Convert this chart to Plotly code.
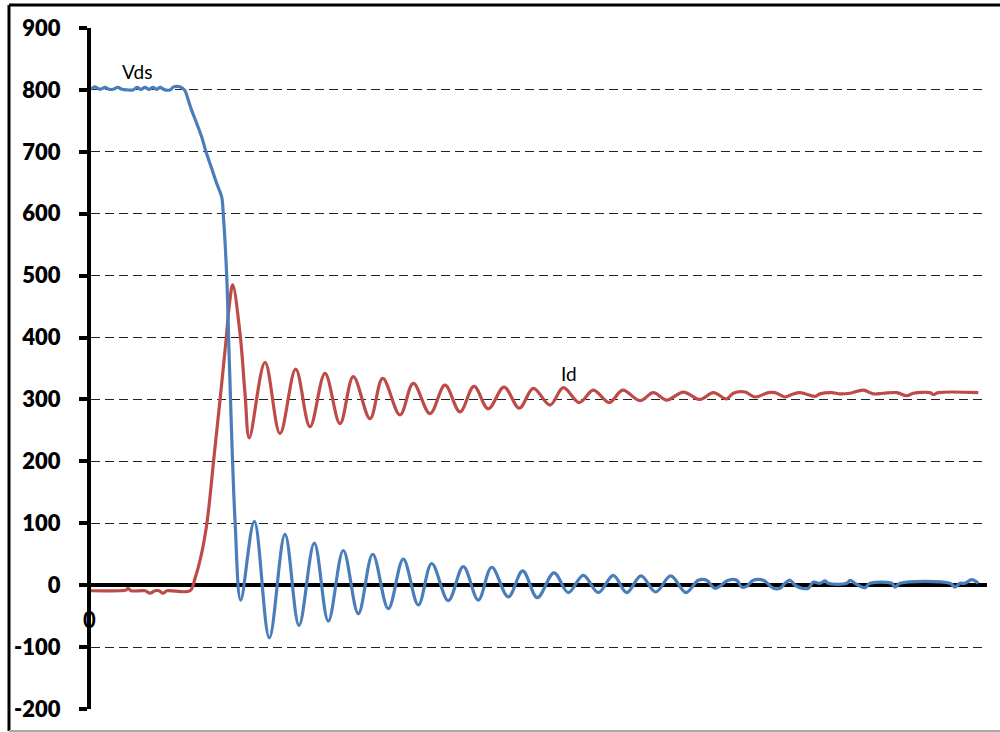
import plotly.graph_objects as go

# Switching transient: drain-source voltage (V) and drain current, vs. time
vds_t = [0, 4, 9, 14, 18, 22, 27, 31, 36, 42, 46, 50, 54, 58, 62, 66, 69, 74, 79, 83, 89, 92, 94,
         97, 100.7, 105.7, 110.7, 115, 120.7, 125.7, 130.7, 132.3, 135.7, 138.3, 144, 149.7,
         163.3, 178.3, 194, 208, 223.3, 237.3, 252.3, 267.3, 281.7, 297.3, 312.3, 327.3, 340.7,
         357.3, 372.3, 387.3, 400.7, 417.3, 431.7, 446.3, 463, 477.3, 492.3, 507.3, 522.3, 535.7,
         550, 564.7, 579.7, 595, 607.3, 615.7, 624, 637.3, 645.7, 650.7, 655.7, 662.3, 672.3,
         682.3, 689, 694, 699, 704, 710.7, 717.3, 722.3, 729, 734, 737.3, 755.7, 759, 764, 774,
         779, 800.7, 804, 809, 859, 864, 869, 874, 880.7, 887.3]
vds_v = [801, 805, 801, 804, 801, 801, 804, 801, 800, 800, 804, 801, 804, 801, 804, 801, 804, 800,
         800, 805, 805, 802, 799, 785, 767, 746, 724, 700, 673, 649, 627, 598, 500, 363, 105, -24,
         103, -85, 82, -65, 68, -58, 56, -46, 50, -38, 42, -32, 35, -25, 30, -24, 29, -19, 23, -20,
         20, -12, 16, -12, 16, -12, 15, -11, 15, -12, 8, 8, -5, 8, 8, -3, -2, 8, 8, -5, -5, 3, 8,
         0, -5, -5, 5, 3, 7, 3, 3, 8, 3, -4, 3, 3, -3, 3, 3, -3, 3, 3, 9, 3]

id_t = [0, 29, 35, 37, 40, 54, 59, 64, 68, 72, 76, 99, 104, 110.7, 116.3, 123, 129, 135, 138.5,
        141.7, 149, 154, 158.3, 174, 189, 204.7, 219, 234, 249, 262.3, 279, 291.7, 309, 322.3,
        339, 354, 369, 383, 397.3, 413, 428.3, 442.3, 459, 472.3, 488.3, 502.3, 518.3, 531.7,
        549, 562.3, 575.7, 592.3, 609, 622.3, 635.7, 642.3, 654, 664, 677.3, 684, 694, 700.7,
        709, 724, 729, 740.7, 749, 759, 772.3, 782.3, 792.3, 805.7, 815.7, 822.3, 839, 842.3,
        847.3, 887.3]
id_v = [-9, -9, -8, -5, -9, -9, -13, -9, -9, -13, -9, -9, 11, 52, 105, 207, 299, 395, 455, 485,
        407, 310, 238, 360, 245, 349, 256, 342, 261, 337, 269, 334, 275, 326, 277, 323, 280, 321,
        285, 320, 286, 318, 291, 319, 295, 315, 295, 315, 298, 311, 299, 312, 300, 311, 301, 310,
        312, 304, 311, 311, 304, 308, 311, 305, 309, 311, 309, 310, 315, 309, 310, 311, 306, 310,
        311, 308, 311, 311]

y_ticks = list(range(-200, 901, 100))

BLUE = "#4A7EBB"
RED = "#BE4B48"
TICK_FONT = dict(family="Lato, Open Sans, sans-serif", size=22, color="black")
LABEL_FONT = dict(family="Lato, Open Sans, sans-serif", size=19, color="black")

fig = go.Figure()
fig.add_trace(go.Scatter(x=id_t, y=id_v, mode="lines", name="Id",
                         line=dict(color=RED, width=3.2, shape="spline", smoothing=1)))
fig.add_trace(go.Scatter(x=vds_t, y=vds_v, mode="lines", name="Vds",
                         line=dict(color=BLUE, width=3.2, shape="spline", smoothing=1)))

fig.update_layout(
    width=1000, height=732,
    margin=dict(l=91, r=13, t=28, b=23, autoexpand=False),
    paper_bgcolor="white", plot_bgcolor="white",
    showlegend=False,
    xaxis=dict(range=[0, 896], showgrid=False, zeroline=False, showline=False,
               showticklabels=False, ticks="", automargin=False),
    yaxis=dict(range=[-200, 900], tickvals=y_ticks, ticktext=[str(v) for v in y_ticks],
               showgrid=True, gridcolor="#222222", gridwidth=1.2, griddash="9px,5px",
               zeroline=True, zerolinecolor="black", zerolinewidth=4,
               showline=True, linecolor="black", linewidth=4,
               ticks="outside", ticklen=8, tickwidth=4, tickcolor="black",
               tickfont=dict(TICK_FONT, weight=800), ticklabelstandoff=14,
               automargin=False),
    annotations=[
        dict(x=0, y=-56, xref="x", yref="y", text="<b>0</b>", showarrow=False,
             xanchor="center", yanchor="middle", xshift=-2, font=TICK_FONT),
        dict(x=46, y=829, xref="x", yref="y", text="Vds", showarrow=False, font=LABEL_FONT),
        dict(x=477.5, y=342, xref="x", yref="y", text="Id", showarrow=False, font=LABEL_FONT),
    ],
    shapes=[
        # chart frame: left/top dark edges, light bottom edge
        dict(type="line", xref="paper", yref="paper", x0=-82 / 896, x1=-82 / 896,
             y0=-22 / 681, y1=1 + 23 / 681, line=dict(color="black", width=3)),
        dict(type="line", xref="paper", yref="paper", x0=-82 / 896, x1=1 + 14 / 896,
             y0=1 + 23 / 681, y1=1 + 23 / 681, line=dict(color="black", width=3)),
        dict(type="line", xref="paper", yref="paper", x0=-82 / 896, x1=1 + 14 / 896,
             y0=-22 / 681, y1=-22 / 681, line=dict(color="#aaaaaa", width=2)),
    ],
)

fig.write_html("out.html")
